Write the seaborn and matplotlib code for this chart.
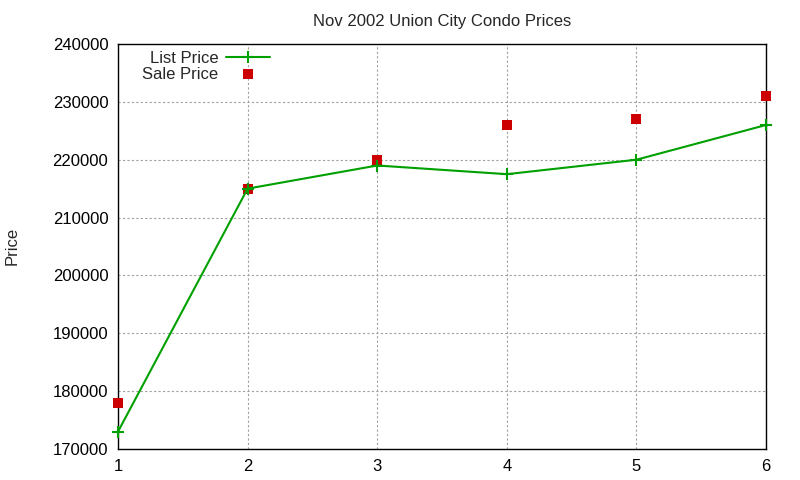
import numpy as np
import pandas as pd
import matplotlib
matplotlib.use("Agg")
import matplotlib.pyplot as plt
import seaborn as sns

# chart data
months = [1, 2, 3, 4, 5, 6]
list_price = [173000, 215000, 219000, 217500, 220000, 226000]
sale_price = [178000, 215000, 220000, 226000, 227000, 231000]

df = pd.DataFrame({"month": months, "list": list_price, "sale": sale_price})

sns.set_style("white")
plt.rcParams["font.family"] = ["Liberation Sans", "DejaVu Sans"]

fig = plt.figure(figsize=(8, 4.8), dpi=100)
ax = fig.add_axes([118 / 800, 1 - 449 / 480, (766 - 118) / 800, (449 - 44) / 480])

green = "#00a000"
sns.lineplot(data=df, x="month", y="list", ax=ax, color=green, lw=1.5,
             marker="+", markersize=9, markeredgewidth=1.5,
             markeredgecolor=green, label="List Price", clip_on=False, zorder=4)
sns.scatterplot(data=df, x="month", y="sale", ax=ax, color="#cc0000", marker="s",
                s=45, linewidth=0, label="Sale Price", zorder=3, clip_on=False)

ax.set_xlim(1, 6)
ax.set_ylim(170000, 240000)
ax.set_xticks(months)
ax.set_yticks(np.arange(170000, 240001, 10000))
ax.tick_params(direction="in", labelsize=12, length=5, colors="black", pad=7)
ax.grid(True, color="#a0a0a0", linestyle=(0, (2, 2)), linewidth=0.8)
for s in ax.spines.values():
    s.set_color("black")
    s.set_linewidth(1)

ax.set_xlabel("")
ax.set_ylabel("")
fig.text(12 / 800, 1 - 246 / 480, "Price", rotation=90, fontsize=12,
         ha="center", va="center")
ax.set_title("Nov 2002 Union City Condo Prices", fontsize=12, pad=13)

ax.legend(loc="upper left", bbox_to_anchor=(142 / 800, 1 - 51 / 480),
          bbox_transform=fig.transFigure, frameon=False,
          markerfirst=False, fontsize=12, handlelength=2.6, borderaxespad=0,
          borderpad=0, labelspacing=0.05, handletextpad=0.5)

fig.savefig("out.png", dpi=100)
